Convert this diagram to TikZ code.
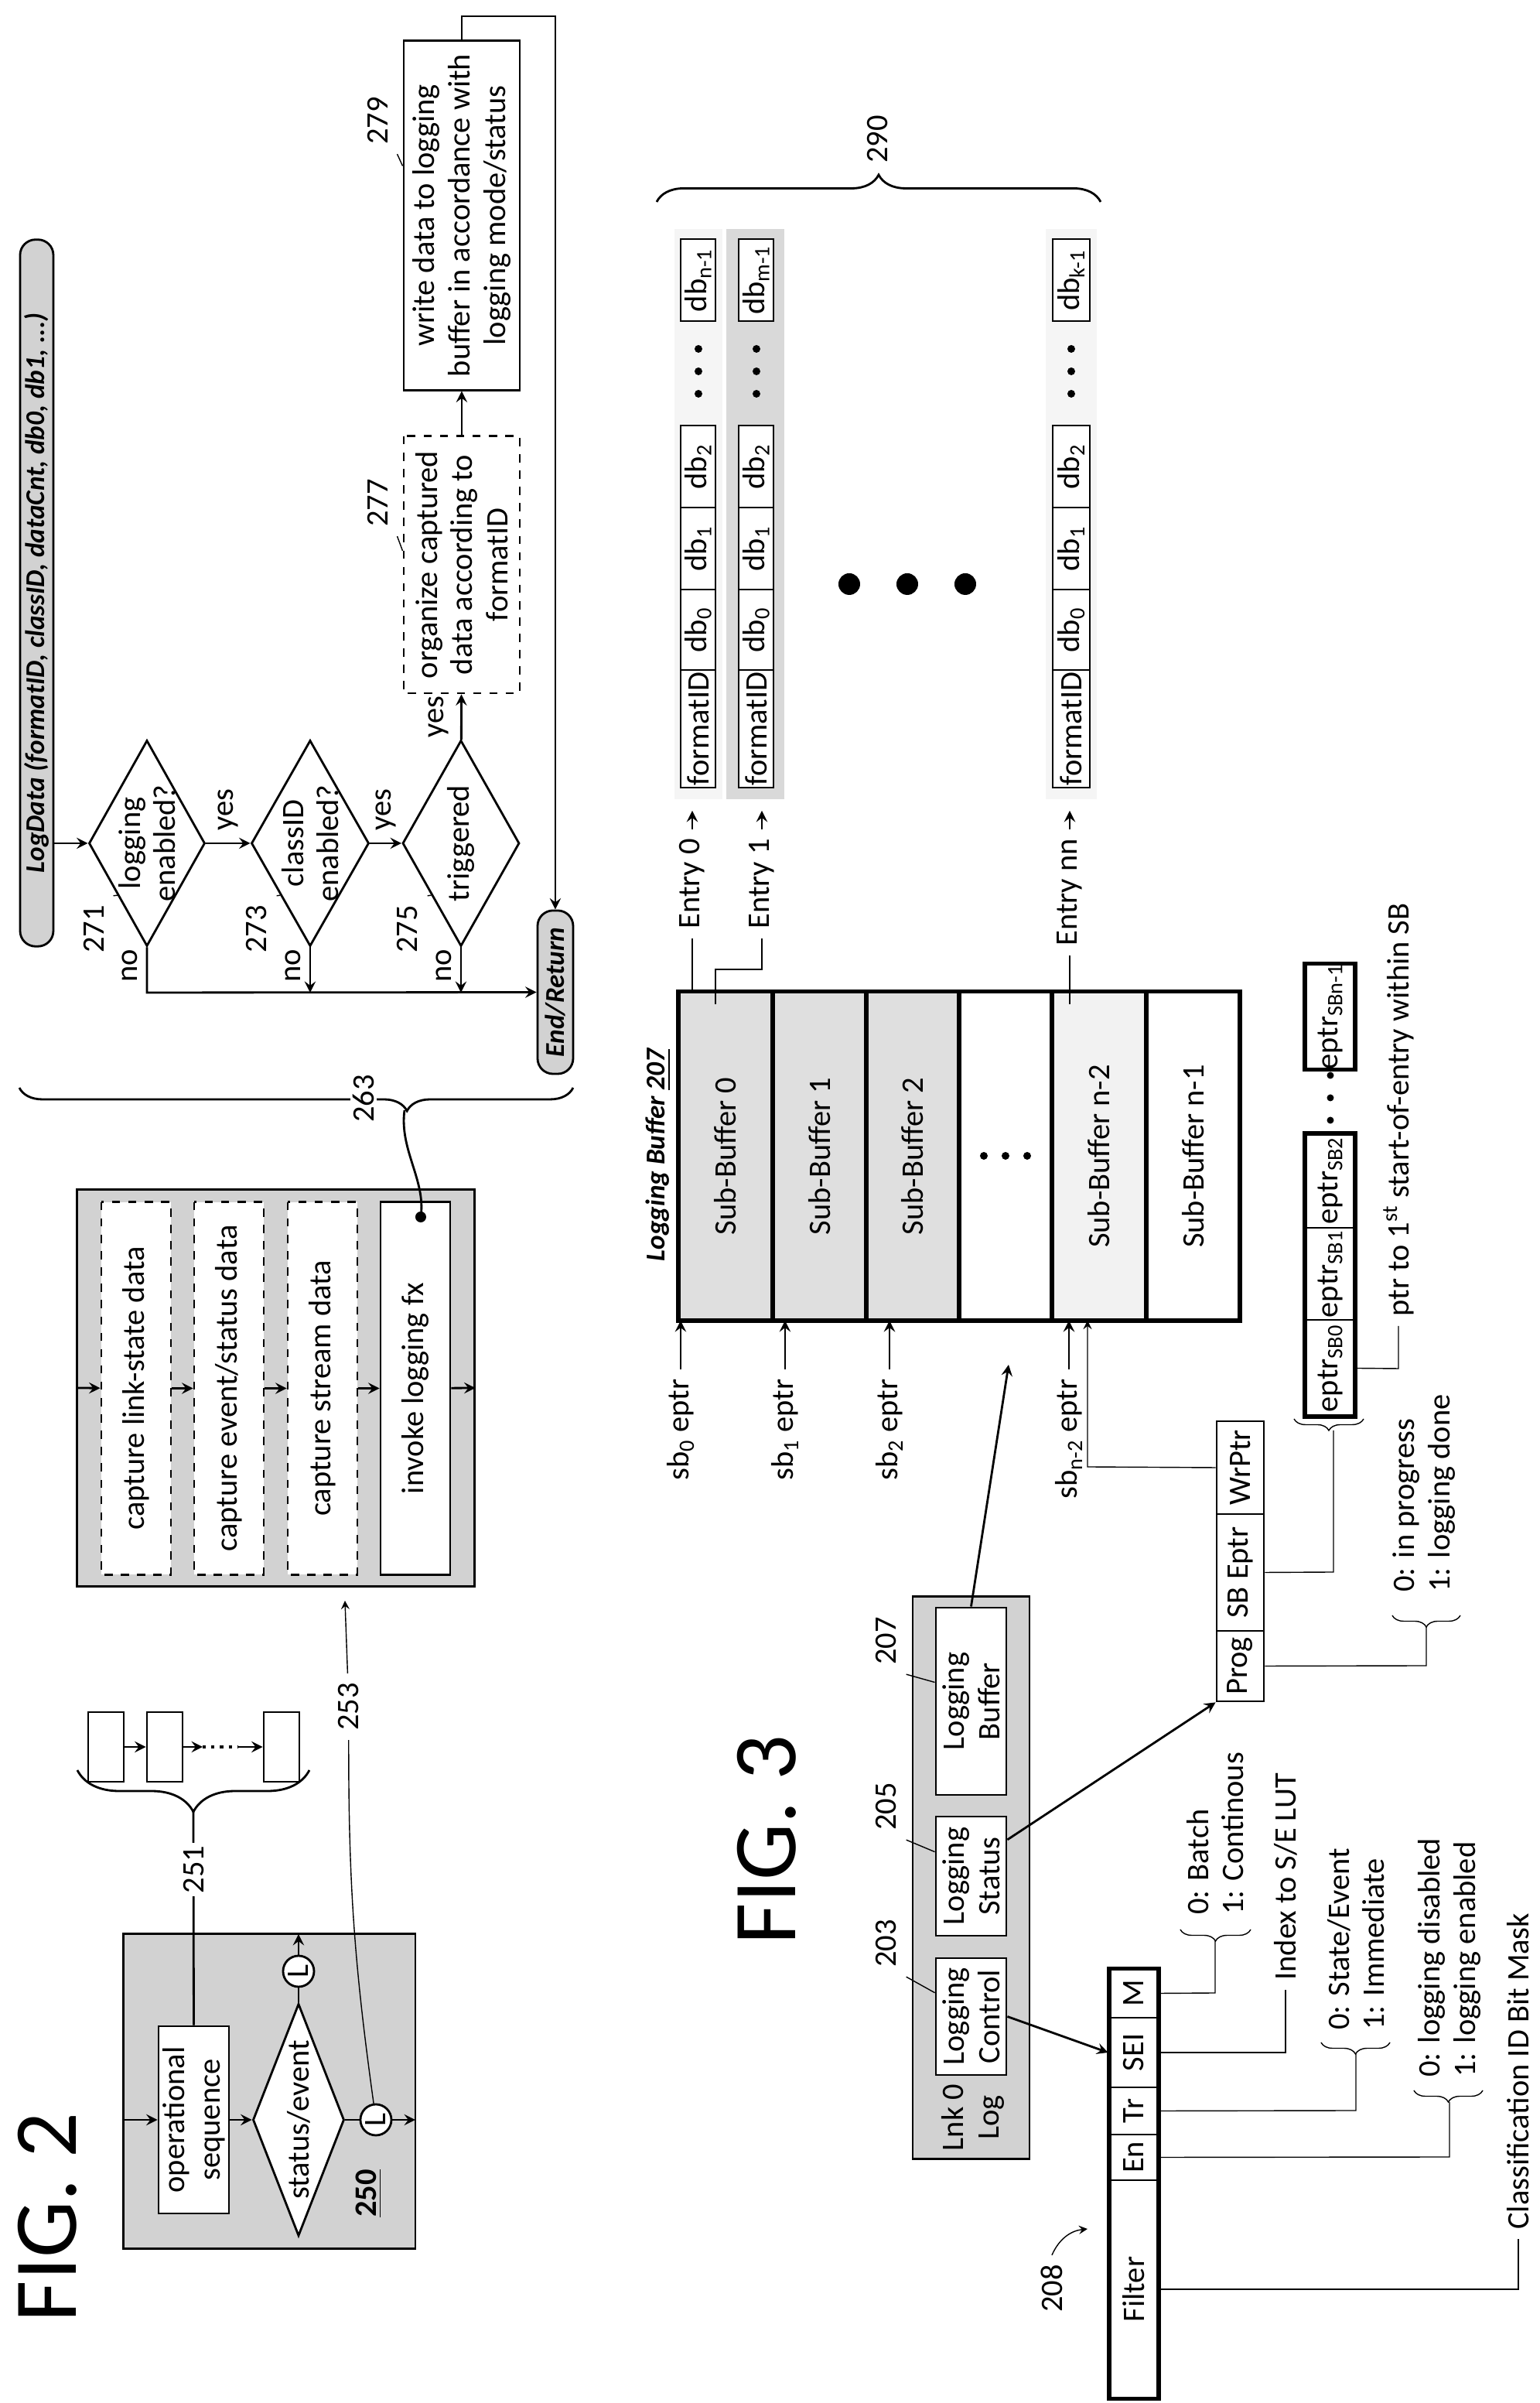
\documentclass[tikz,border=0pt]{standalone}
\usepackage{fontspec}
\setmainfont{Carlito}
\usetikzlibrary{shapes.geometric,decorations.pathreplacing,calc}
\tikzstyle{box} = [rectangle, draw=black, thick, fill=white, inner sep=0pt]
\tikzstyle{dbox} = [box, dashed]
\tikzstyle{grey} = [rectangle, draw=black, thick, fill=gray!35, inner sep=0pt]
\tikzstyle{heavy} = [rectangle, draw=black, line width=1.5pt, inner sep=0pt]
\tikzstyle{dia} = [diamond, draw=black, thick, fill=white, inner sep=0pt]
\tikzstyle{pill} = [rectangle, rounded corners=0.2cm, draw=black, thick, fill=gray!35, inner sep=0pt, font=\bfseries\itshape]
\tikzstyle{circ} = [circle, draw=black, thick, fill=white, inner sep=0pt, minimum size=0.4cm]
\tikzstyle{arrow} = [thick,->,>=stealth]
\tikzstyle{lead} = [thin]
\tikzstyle{brace} = [thick, decorate, decoration={brace}]

\begin{document}
\begin{tikzpicture}[font=\fontsize{11.5}{13}\selectfont, align=center]
\begin{scope}[rotate=90, x=0.01cm, y=0.01cm, transform shape]
\useasboundingbox (0,0) rectangle (3106,1991);

% FIG. 2
\node (fig2) [font=\fontsize{33}{36}\selectfont] at (240,1930) {FIG. 2};
\node (250) [grey, minimum width=4.06cm, minimum height=3.77cm] at (403,1642.5) {};
\node (seq) [box, minimum width=2.42cm, minimum height=0.91cm] at (366,1740.5) {operational\\sequence};
\node (se) [dia, minimum width=3cm, minimum height=1.18cm] at (366,1605) {};
\node at (se) {status/event};
\node (L1) [circ] at (366,1505) {L};
\node (L2) [circ] at (558,1605) {L};
\node (n250) at (271,1514) {\textbf{\underline{250}}};
\coordinate (in250) at (366,1831);
\coordinate (out1) at (366,1454);
\coordinate (out2) at (606,1605);
\draw[arrow] (in250) -- (seq);
\draw[arrow] (seq) -- (se);
\draw[thick] (se) -- (L1);
\draw[arrow] (L1) -- (out1);
\draw[thick] (se) -- (L2);
\draw[arrow] (L2) -- (out2);

\coordinate (b251) at (764,1741);
\draw[thick] (seq.east) -- node[fill=white, inner sep=1pt, pos=0.73] {251} (b251);
\draw[brace, decoration={amplitude=0.54cm}] (818,1591) -- (818,1891);
\node (s1) [box, minimum width=0.9cm, minimum height=0.46cm] at (848,1854) {};
\node (s2) [box, minimum width=0.9cm, minimum height=0.46cm] at (848,1778) {};
\node (s3) [box, minimum width=0.9cm, minimum height=0.46cm] at (848,1627) {};
\coordinate (d1) at (848,1729);
\coordinate (d2) at (848,1683);
\draw[arrow] (s1) -- (s2);
\draw[arrow] (s2) -- (d1);
\draw[very thick, dotted] (d1) -- (d2);
\draw[arrow] (d2) -- (s3);

% capture sequence
\node (cap) [grey, minimum width=5.12cm, minimum height=5.13cm] at (1312,1634.5) {};
\node (c1) [dbox, minimum width=4.81cm, minimum height=0.9cm] at (1311.5,1815) {capture link-state data};
\node (c2) [dbox, minimum width=4.81cm, minimum height=0.9cm] at (1311.5,1695) {capture event/status data};
\node (c3) [dbox, minimum width=4.81cm, minimum height=0.9cm] at (1311.5,1574) {capture stream data};
\node (c4) [box, minimum width=4.81cm, minimum height=0.9cm] at (1311.5,1454) {invoke logging fx};
\draw[arrow] (cap.north) -- (c1);
\draw[arrow] (c1) -- (c2);
\draw[arrow] (c2) -- (c3);
\draw[arrow] (c3) -- (c4);
\draw[arrow] (c4) -- (cap.south);

\node (n253) at (900,1540) {253};
\coordinate (t253) at (1037,1545);
\draw[lead] (L1) to[bend left=4] (n253);
\draw[lead, ->, >=stealth] (n253) -- (t253);

\coordinate (dot) at (1533,1447);
\fill (dot) circle (0.07cm);
\draw[brace, decoration={amplitude=0.3cm, aspect=0.3}] (1700,1250) -- (1700,1966);
\node (n263) [fill=white, inner sep=1pt] at (1686,1521) {263};
\coordinate (t263) at (1671,1468);
\draw[thick] (t263) .. controls (1620,1475) and (1580,1440) .. (dot);

% logging flow
\node (log) [pill, minimum width=9.13cm, minimum height=0.43cm] at (2339.5,1943.5) {LogData (formatID, classID, dataCnt, db0, db1, ...)};
\coordinate (log1) at (2016,1922);
\node (271) [dia, minimum width=2.66cm, minimum height=1.5cm] at (2016,1801) {};
\node (273) [dia, minimum width=2.66cm, minimum height=1.52cm] at (2016,1590) {};
\node (275) [dia, minimum width=2.66cm, minimum height=1.51cm] at (2016,1395) {};
\node at (271) {logging\\enabled?};
\node at (273) {classID\\enabled?};
\node at (275) {triggered};
\node (end) [pill, minimum width=2.11cm, minimum height=0.46cm] at (1823.5,1273) {End/Return};
\node (277) [dbox, minimum width=3.32cm, minimum height=1.5cm] at (2376,1394) {organize captured\\data according to\\formatID};
\node (279) [box, minimum width=4.51cm, minimum height=1.5cm] at (2827.5,1394) {write data to logging\\buffer in accordance with\\logging mode/status};

\draw[arrow] (log1) -- (271);
\draw[arrow] (271) -- node[right=1pt] {yes} (273);
\draw[arrow] (273) -- node[right=1pt] {yes} (275);
\draw[arrow] (275) -- node[above=1pt] {yes} (277);
\draw[arrow] (277) -- (279);
\coordinate (n1) at (1823,1801);
\coordinate (n2) at (1823,1590);
\coordinate (n3) at (1823,1395);
\draw[arrow] (271.west) -- (n1) -- (end);
\draw[arrow] (273.west) -- (n2);
\draw[arrow] (275.west) -- (n3);
\node at (1858,1823) {no};
\node at (1858,1612) {no};
\node at (1858,1417) {no};
\coordinate (r1) at (3085,1394);
\coordinate (r2) at (3085,1273);
\draw[arrow] (279.east) -- (r1) -- (r2) -- (end);

\node (n271) at (1905,1870) {271};
\node (n273) at (1905,1659) {273};
\node (n275) at (1905,1464) {275};
\draw[lead] (n271.south east) -- (271.north west);
\draw[lead] (n273.south east) -- (273.north west);
\draw[lead] (n275.south east) -- (275.north west);
\node (n277) at (2456,1503) {277};
\node (n279) at (2950,1503) {279};
\draw[lead] (n277.south west) -- ($(277.north)+(18,0)$);
\draw[lead] (n279.south west) -- ($(279.north)+(64,0)$);

% FIG. 3
\node (fig3) [font=\fontsize{33}{36}\selectfont] at (728,1000) {FIG. 3};
\node (lnk) [grey, minimum width=7.26cm, minimum height=1.51cm] at (679,735.5) {};
\node (lnklbl) at (369,733) {Lnk 0\\Log};
\node (ctrl) [box, minimum width=1.51cm, minimum height=0.91cm] at (499.5,735.5) {Logging\\Control};
\node (stat) [box, minimum width=1.54cm, minimum height=0.91cm] at (681,735.5) {Logging\\Status};
\node (lbuf) [box, minimum width=2.42cm, minimum height=0.91cm] at (907,735.5) {Logging\\Buffer};
\node (n203) at (594,845) {203};
\node (n205) at (771,845) {205};
\node (n207) at (985,845) {207};
\draw[lead] (n203.south west) -- ($(ctrl.north)!0.4!(ctrl.north east)$);
\draw[lead] (n205.south west) -- ($(stat.north)!0.4!(stat.north east)$);
\draw[lead] (n207.south west) -- ($(lbuf.north)!0.2!(lbuf.north east)$);

% filter register
\node (M) [box, minimum width=0.63cm, minimum height=0.64cm] at (529.5,525) {M};
\node (SEI) [box, minimum width=0.9cm, minimum height=0.64cm] at (453,525) {SEI};
\node (Tr) [box, minimum width=0.61cm, minimum height=0.64cm] at (377.5,525) {Tr};
\node (En) [box, minimum width=0.59cm, minimum height=0.64cm] at (317.5,525) {En};
\node (Filter) [box, minimum width=2.82cm, minimum height=0.64cm] at (147,525) {Filter};
\node (reg) [heavy, minimum width=5.55cm, minimum height=0.64cm] at (283.5,525) {};
\node (n208) at (148,631) {208};
\coordinate (f208) at (225,585);
\draw[lead, ->, >=stealth] (n208.east) to[bend left=30] (f208);
\draw[arrow] (ctrl.south) -- (SEI.north);

\coordinate (m1) at (530,420);
\coordinate (m2) at (597,420);
\draw[thin] (M.south) -- (m1) -- (m2);
\draw[brace, thin, decoration={amplitude=0.15cm}] (612,374) -- (612,465);
\node (batch) [anchor=west, align=left] at (619,420) {0: Batch\\1: Continous};
\coordinate (i1) at (453,329);
\node (lut) [anchor=west] at (534,329) {Index to S/E LUT};
\draw[thin] (SEI.south) -- (i1) -- (lut);
\coordinate (t1) at (378,238);
\coordinate (t2) at (451,238);
\draw[thin] (Tr.south) -- (t1) -- (t2);
\draw[brace, thin, decoration={amplitude=0.15cm}] (466,194) -- (466,283);
\node (trig) [anchor=west, align=left] at (470,238) {0: State/Event\\1: Immediate};
\coordinate (en1) at (318,117);
\coordinate (en2) at (389,117);
\draw[thin] (En.south) -- (en1) -- (en2);
\draw[brace, thin, decoration={amplitude=0.15cm}] (404,74) -- (404,163);
\node (ena) [anchor=west, align=left] at (409,117) {0: logging disabled\\1: logging enabled};
\coordinate (fl1) at (147,28);
\node (cls) [anchor=west] at (212,28) {Classification ID Bit Mask};
\draw[thin] (Filter.south) -- (fl1) -- (cls);

% status register
\node (prog) [box, minimum width=0.91cm, minimum height=0.61cm] at (952.5,387.5) {Prog};
\node (sbe) [box, minimum width=1.51cm, minimum height=0.61cm] at (1073.5,387.5) {SB Eptr};
\node (wrp) [box, minimum width=1.2cm, minimum height=0.61cm] at (1209,387.5) {WrPtr};
\draw[arrow] ($(stat.south)!0.6!(stat.south east)$) -- (prog.north west);
\coordinate (w1) at (1210,585);
\coordinate (w2) at (1399,585);
\draw[lead, ->, >=stealth] (wrp.north) -- (w1) -- (w2);
\coordinate (p1) at (953,147);
\coordinate (p2) at (1003,147);
\draw[thin] (prog.south) -- (p1) -- (p2);
\draw[brace, thin, decoration={amplitude=0.15cm}] (1018,103) -- (1018,191);
\node (done) [anchor=west, align=left] at (1036,150) {0: in progress\\1: logging done};
\coordinate (q1) at (1074,267);
\coordinate (q2) at (1257,267);
\draw[thin] (sbe.south) -- (q1) -- (q2);
\draw[brace, thin, decoration={amplitude=0.15cm}] (1272,228) -- (1272,318);

% entry pointer array
\node (ep0) [box, minimum width=1.25cm, minimum height=0.65cm] at (1337.5,271.5) {eptr\textsubscript{SB0}};
\node (ep1) [box, minimum width=1.19cm, minimum height=0.65cm] at (1459.5,271.5) {eptr\textsubscript{SB1}};
\node (ep2) [box, minimum width=1.22cm, minimum height=0.65cm] at (1580,271.5) {eptr\textsubscript{SB2}};
\node (eparr) [heavy, minimum width=3.66cm, minimum height=0.65cm] at (1458,271.5) {};
\node (epn) [heavy, fill=white, minimum width=1.24cm, minimum height=0.65cm] at (1792,271.5) {eptr\textsubscript{SBn-1}};
\fill (1658,271) circle (0.045cm) (1687,271) circle (0.045cm) (1716,271) circle (0.045cm);
\coordinate (g1) at (1337,183);
\node (ptr) [anchor=west] at (1392,183) {ptr to 1\textsuperscript{st} start-of-entry within SB};
\draw[thin] (ep0.south) -- (g1) -- (ptr);

% logging buffer
\node (sb0) [heavy, fill=gray!25, minimum width=4.25cm, minimum height=1.22cm] at (1611.5,1053) {Sub-Buffer 0};
\node (sb1) [heavy, fill=gray!25, minimum width=4.25cm, minimum height=1.21cm] at (1611.5,931.5) {Sub-Buffer 1};
\node (sb2) [heavy, fill=gray!25, minimum width=4.25cm, minimum height=1.2cm] at (1611.5,811) {Sub-Buffer 2};
\node (sbd) [heavy, fill=white, minimum width=4.25cm, minimum height=1.2cm] at (1611.5,691) {};
\node (sbn2) [heavy, fill=gray!10, minimum width=4.25cm, minimum height=1.22cm] at (1611.5,570) {Sub-Buffer n-2};
\node (sbn1) [heavy, fill=white, minimum width=4.25cm, minimum height=1.21cm] at (1611.5,448.5) {Sub-Buffer n-1};
\fill (1612,719) circle (0.05cm) (1612,691) circle (0.05cm) (1612,663) circle (0.05cm);
\node (t207) [font=\bfseries\itshape] at (1613,1140) {Logging Buffer \underline{207}};
\coordinate (lb207) at (1342,687);
\draw[arrow] (lbuf.east) -- (lb207);

\node (e0) [anchor=east] at (1336,1111) {sb\textsubscript{0} eptr};
\node (e1) [anchor=east] at (1336,976) {sb\textsubscript{1} eptr};
\node (e2) [anchor=east] at (1336,841) {sb\textsubscript{2} eptr};
\node (e3) [anchor=east] at (1336,609) {sb\textsubscript{n-2} eptr};
\coordinate (b0) at (1399,1111);
\coordinate (b1) at (1399,976);
\coordinate (b2) at (1399,841);
\coordinate (b3) at (1399,609);
\draw[arrow] (e0) -- (b0);
\draw[arrow] (e1) -- (b1);
\draw[arrow] (e2) -- (b2);
\draw[arrow] (e3) -- (b3);

\node (x0) [anchor=west] at (1893,1096) {Entry 0};
\node (x1) [anchor=west] at (1893,1006) {Entry 1};
\node (x2) [anchor=west] at (1871,608) {Entry nn};
\coordinate (a0) at (1824,1096);
\coordinate (a1) at (1808,1066);
\coordinate (a1b) at (1853,1066);
\coordinate (a1c) at (1853,1006);
\coordinate (a2) at (1808,608);
\coordinate (y0) at (2058,1096);
\coordinate (y1) at (2058,1006);
\coordinate (y2) at (2058,608);
\draw[thick] (a0) -- (x0);
\draw[thick] (a1) -- (a1b) -- (a1c) -- (x1);
\draw[thick] (a2) -- (x2);
\draw[arrow] (x0) -- (y0);
\draw[arrow] (x1) -- (y1);
\draw[arrow] (x2) -- (y2);

% entries
\fill[gray!8] (2073,1057) rectangle (2810,1119);
\fill[gray!30] (2073,977) rectangle (2810,1052);
\fill[gray!8] (2073,573) rectangle (2810,639);
\node (fa) [box, minimum width=1.52cm, minimum height=0.45cm] at (2164,1088.5) {formatID};
\node (a0a) [box, minimum width=1.04cm, minimum height=0.45cm] at (2292,1088.5) {db\textsubscript{0}};
\node (a1a) [box, minimum width=1.06cm, minimum height=0.45cm] at (2397,1088.5) {db\textsubscript{1}};
\node (a2a) [box, minimum width=1.06cm, minimum height=0.45cm] at (2503,1088.5) {db\textsubscript{2}};
\node (ana) [box, minimum width=1.06cm, minimum height=0.45cm] at (2744,1088.5) {db\textsubscript{n-1}};
\node (fb) [box, minimum width=1.52cm, minimum height=0.45cm] at (2164,1013.5) {formatID};
\node (a0b) [box, minimum width=1.04cm, minimum height=0.45cm] at (2292,1013.5) {db\textsubscript{0}};
\node (a1b2) [box, minimum width=1.06cm, minimum height=0.45cm] at (2397,1013.5) {db\textsubscript{1}};
\node (a2b) [box, minimum width=1.06cm, minimum height=0.45cm] at (2503,1013.5) {db\textsubscript{2}};
\node (anb) [box, minimum width=1.06cm, minimum height=0.45cm] at (2744,1013.5) {db\textsubscript{m-1}};
\node (fc) [box, minimum width=1.52cm, minimum height=0.48cm] at (2164,606) {formatID};
\node (a0c) [box, minimum width=1.04cm, minimum height=0.48cm] at (2292,606) {db\textsubscript{0}};
\node (a1c2) [box, minimum width=1.06cm, minimum height=0.48cm] at (2397,606) {db\textsubscript{1}};
\node (a2c) [box, minimum width=1.06cm, minimum height=0.48cm] at (2503,606) {db\textsubscript{2}};
\node (anc) [box, minimum width=1.06cm, minimum height=0.48cm] at (2744,606) {db\textsubscript{k-1}};
\fill (2597,1088) circle (0.05cm) (2626,1088) circle (0.05cm) (2655,1088) circle (0.05cm);
\fill (2597,1013) circle (0.05cm) (2626,1013) circle (0.05cm) (2655,1013) circle (0.05cm);
\fill (2597,606) circle (0.05cm) (2626,606) circle (0.05cm) (2655,606) circle (0.05cm);
\fill (2351,893) circle (0.14cm) (2351,818) circle (0.14cm) (2351,743) circle (0.14cm);
\draw[brace, decoration={amplitude=0.35cm}] (2845,1142) -- (2845,568);
\node (n290) at (2926,856) {290};
\end{scope}
\end{tikzpicture}
\end{document}
